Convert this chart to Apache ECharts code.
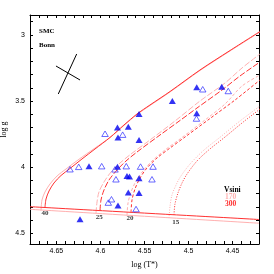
<!DOCTYPE html>
<html><head><meta charset="utf-8">
<script src="https://cdn.jsdelivr.net/npm/echarts@6/dist/echarts.min.js"></script>
<style>html,body{margin:0;padding:0;background:#fff}#c{width:274px;height:274px}</style>
</head><body><div id="c"></div>
<script>
// tick labels
const xLabelValues = [4.65, 4.6, 4.55, 4.5, 4.45];
const yLabelValues = [3, 3.5, 4, 4.5];

// stars: filled triangles
const filledLogT = [4.6232, 4.613, 4.5807, 4.5807, 4.5801, 4.5684, 4.5562, 4.5562, 4.5699, 4.567, 4.5562, 4.5684, 4.5562, 4.5801, 4.5184, 4.4907, 4.4907, 4.4623];
const filledLogG = [4.393, 3.993, 3.997, 3.700, 3.775, 3.694, 3.598, 3.794, 4.066, 4.070, 4.083, 4.191, 4.195, 4.289, 3.500, 3.396, 3.593, 3.392];
// stars: open triangles
const openLogT = [4.6346, 4.6247, 4.5986, 4.5835, 4.5707, 4.5545, 4.5403, 4.5948, 4.5748, 4.5824, 4.5415, 4.5875, 4.5911, 4.5596, 4.4839, 4.4549, 4.4910];
const openLogG = [4.015, 3.997, 3.992, 4.016, 3.992, 3.995, 3.995, 3.747, 3.754, 4.091, 4.091, 4.242, 4.267, 4.316, 3.411, 3.424, 3.632];

// ZAMS lines
const zams170 = [[4.68, 4.318], [4.42, 4.423]];
const zams300 = [[4.68, 4.298], [4.42, 4.395]];

// Bonn tracks, vsini 170 and 300
const track40v170 = [[4.6675,4.3270],[4.6664,4.2476],[4.6630,4.1872],[4.6573,4.1267],[4.6493,4.0663],[4.6391,4.0134],[4.6255,3.9454],[4.6062,3.8548],[4.5892,3.7754],[4.5733,3.6848],[4.5585,3.6017],[4.5210,3.4317],[4.4870,3.2693],[4.4529,3.1220],[4.4189,2.9785]];
const track40v300 = [[4.6630,4.3043],[4.6618,4.2400],[4.6584,4.1796],[4.6528,4.1192],[4.6448,4.0625],[4.6346,4.0096],[4.6210,3.9379],[4.6062,3.8623],[4.5892,3.7754],[4.5733,3.6810],[4.5585,3.5979],[4.5438,3.5300],[4.5210,3.4279],[4.4870,3.2655],[4.4529,3.1182],[4.4189,2.9747]];
const track25v170 = [[4.6051,4.3481],[4.6039,4.2627],[4.6017,4.1872],[4.5960,4.1116],[4.5880,4.0361],[4.5778,3.9681],[4.5653,3.9001],[4.5438,3.7943],[4.5154,3.6508],[4.4870,3.4997],[4.4586,3.3637],[4.4393,3.2504],[4.4189,3.1446]];
const track25v300 = [[4.6005,4.3277],[4.5994,4.2476],[4.5960,4.1721],[4.5903,4.0965],[4.5812,4.0210],[4.5710,3.9530],[4.5585,3.8850],[4.5324,3.7565],[4.5097,3.6470],[4.4904,3.5526],[4.4620,3.4166],[4.4416,3.3108],[4.4189,3.2051]];
const track20v170 = [[4.5699,4.3624],[4.5687,4.2703],[4.5653,4.1872],[4.5596,4.1041],[4.5517,4.0285],[4.5415,3.9530],[4.5267,3.8699],[4.5097,3.7868],[4.4813,3.6432],[4.4586,3.5224],[4.4393,3.3864],[4.4189,3.3033]];
const track20v300 = [[4.5653,4.3405],[4.5642,4.2476],[4.5608,4.1645],[4.5551,4.0814],[4.5472,4.0058],[4.5358,3.9303],[4.5210,3.8548],[4.5040,3.7717],[4.4756,3.6319],[4.4472,3.4921],[4.4189,3.3410]];
const track15v170 = [[4.5222,4.3836],[4.5210,4.2929],[4.5188,4.2098],[4.5142,4.1343],[4.5094,4.0739],[4.4983,3.9756],[4.4828,3.8721],[4.4639,3.7717],[4.4416,3.6508],[4.4189,3.5375]];
const track15v300 = [[4.5165,4.3587],[4.5154,4.2778],[4.5120,4.1947],[4.5074,4.1192],[4.5017,4.0512],[4.4904,3.9530],[4.4771,3.8699],[4.4586,3.7717],[4.4393,3.6659],[4.4189,3.5601]];

// mass labels
const massLabels = ['40', '25', '20', '15'];
const massLabelLogT = [4.663, 4.6013, 4.5665, 4.5146];
const massLabelLogG = [4.348, 4.374, 4.3836, 4.4138];

// typical error cross
const errorArmA = [[4.6479, 3.4468], [4.6270, 3.1446]];
const errorArmB = [[4.6505, 3.2353], [4.6232, 3.3410]];

const LIGHT = '#ffb0b0', RED = '#ff3030', BLUE = '#0000f0', OPENBLUE = '#3030ff';
const SERIF = '"Liberation Serif", "DejaVu Serif", serif';
const SANS = '"Liberation Sans", Arial, sans-serif';

function fmt(list) {
  return v => {
    for (const t of list) if (Math.abs(v - t) < 1e-6) return String(t);
    return '';
  };
}
function axisCommon() {
  return {
    type: 'value',
    axisLine: { show: true, onZero: false, lineStyle: { color: '#000', width: 1 } },
    axisTick: { show: true, inside: true, length: 3, lineStyle: { color: '#000', width: 1 } },
    splitLine: { show: false },
    minorTick: { show: false }
  };
}
const xBase = { min: 4.42, max: 4.68, inverse: true, minInterval: 0.01, maxInterval: 0.01 };
const yBase = { min: 2.85, max: 4.58, inverse: true, minInterval: 0.1, maxInterval: 0.1 };

function trackSeries(data, color, type, z) {
  return { type: 'line', data, showSymbol: false, smooth: 0.3, z,
    lineStyle: { color, width: 1, type }, silent: true, animation: false };
}

const chart = echarts.init(document.getElementById('c'), null, { renderer: 'canvas' });
chart.setOption({
  animation: false,
  backgroundColor: '#fff',
  grid: { left: 30, right: 15, top: 15, bottom: 30, containLabel: false, outerBoundsMode: 'none' },
  xAxis: [
    Object.assign(axisCommon(), xBase, {
      position: 'bottom',
      axisLabel: { formatter: fmt(xLabelValues), fontSize: 7, color: '#000', margin: 4, fontFamily: SANS, showMinLabel: true, showMaxLabel: true },
      name: 'log (T*)', nameLocation: 'middle', nameGap: 17, nameMoveOverlap: false,
      nameTextStyle: { fontSize: 8, fontFamily: SERIF, color: '#000' }
    }),
    Object.assign(axisCommon(), xBase, { position: 'top', axisLabel: { show: false } })
  ],
  yAxis: [
    Object.assign(axisCommon(), yBase, {
      position: 'left',
      axisLabel: { formatter: fmt(yLabelValues), fontSize: 7, color: '#000', margin: 5, fontFamily: SANS },
      name: 'log g', nameLocation: 'middle', nameGap: 22, nameRotate: 90, nameMoveOverlap: false,
      nameTextStyle: { fontSize: 8, fontFamily: SERIF, color: '#000' }
    }),
    Object.assign(axisCommon(), yBase, { position: 'right', axisLabel: { show: false } })
  ],
  series: [
    trackSeries(zams170, LIGHT, 'solid', 1),
    trackSeries(track40v170, LIGHT, 'solid', 1),
    trackSeries(track25v170, LIGHT, [6, 2], 1),
    trackSeries(track20v170, LIGHT, [3, 2], 1),
    trackSeries(track15v170, LIGHT, [1, 1.5], 1),
    trackSeries(zams300, RED, 'solid', 2),
    trackSeries(track40v300, RED, 'solid', 2),
    trackSeries(track25v300, RED, [6, 2], 2),
    trackSeries(track20v300, RED, [3, 2], 2),
    trackSeries(track15v300, RED, [1, 1.5], 2),
    { type: 'line', data: errorArmA, showSymbol: false, lineStyle: { color: '#000', width: 1 }, z: 3 },
    { type: 'line', data: errorArmB, showSymbol: false, lineStyle: { color: '#000', width: 1 }, z: 3 },
    { type: 'scatter', data: openLogT.map((t, i) => [t, openLogG[i]]), symbol: 'triangle', symbolSize: [6.5, 5.5], z: 4,
      itemStyle: { color: 'rgba(255,255,255,0)', borderColor: OPENBLUE, borderWidth: 0.9 } },
    { type: 'scatter', data: filledLogT.map((t, i) => [t, filledLogG[i]]), symbol: 'triangle', symbolSize: [7, 6], z: 5,
      itemStyle: { color: BLUE } },
    { type: 'scatter', data: massLabels.map((m, i) => ({ value: [massLabelLogT[i], massLabelLogG[i]], name: m })),
      symbolSize: 0, z: 6,
      label: { show: true, position: 'inside', formatter: p => p.name, fontSize: 7, fontFamily: SERIF, fontWeight: 'bold', color: '#000' } }
  ],
  graphic: [
    { type: 'text', left: 39, top: 28, style: { text: 'SMC', fontSize: 7, fontFamily: SERIF, fontWeight: 'bold', fill: '#000' } },
    { type: 'text', left: 39, top: 42, style: { text: 'Bonn', fontSize: 7, fontFamily: SERIF, fontWeight: 'bold', fill: '#000' } },
    { type: 'text', left: 224, top: 186, style: { text: 'Vsini', fontSize: 7.5, fontFamily: SERIF, fontWeight: 'bold', fill: '#000' } },
    { type: 'text', left: 225, top: 193, style: { text: '170', fontSize: 7.5, fontFamily: SERIF, fontWeight: 'bold', fill: LIGHT } },
    { type: 'text', left: 225, top: 200, style: { text: '300', fontSize: 7.5, fontFamily: SERIF, fontWeight: 'bold', fill: RED } }
  ]
});
</script></body></html>
